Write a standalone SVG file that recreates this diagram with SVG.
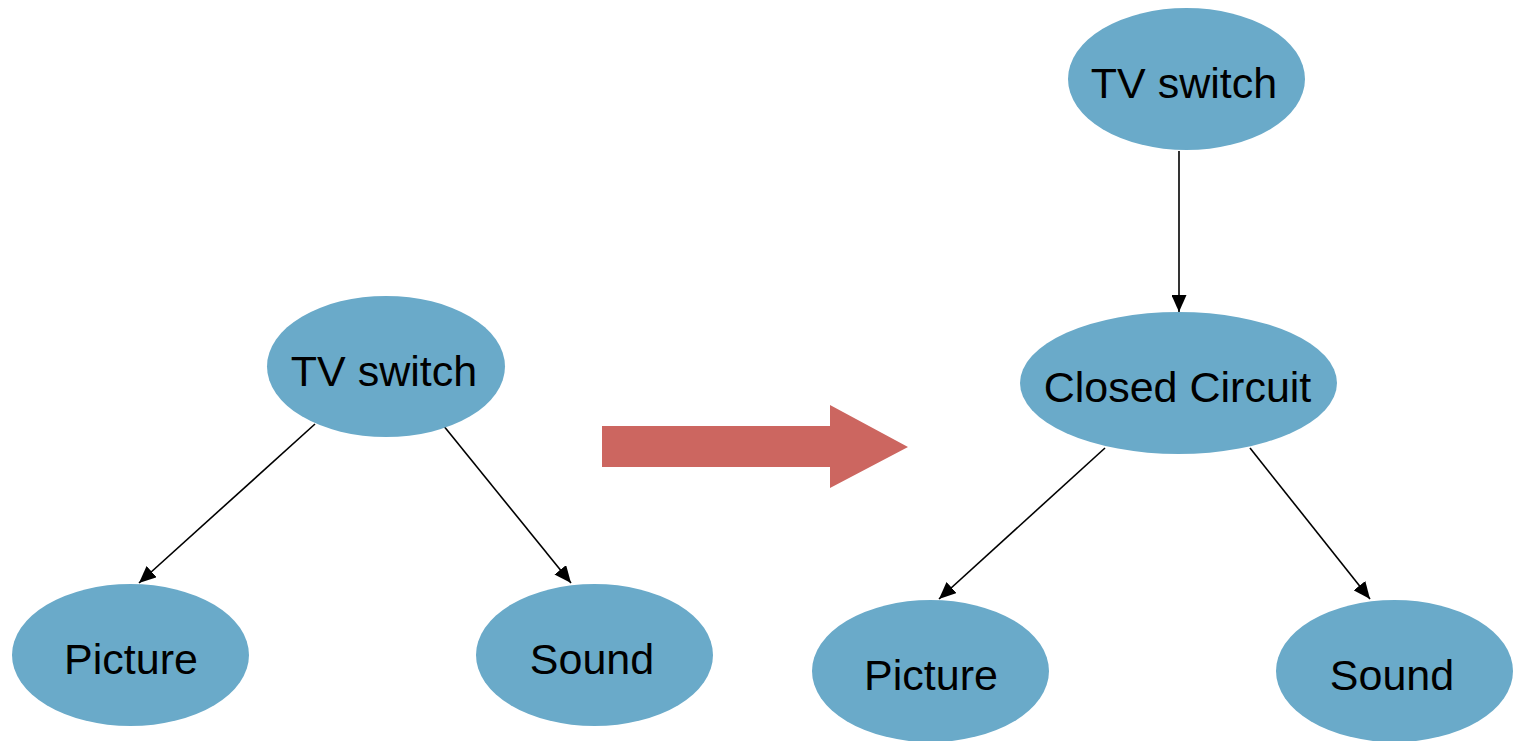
<svg xmlns="http://www.w3.org/2000/svg" width="1513" height="741" viewBox="0 0 1513 741">
<style>
.node{fill:#6AAAC9;}
.lbl{font-family:"Liberation Sans",Arial,sans-serif;font-size:43px;fill:#000;text-anchor:middle;}
.edge{stroke:#000;stroke-width:1.6;fill:none;marker-end:url(#ah);}
</style>
<defs>
<marker id="ah" markerUnits="userSpaceOnUse" markerWidth="17" markerHeight="15" viewBox="0 0 17 15" refX="17" refY="7.5" orient="auto">
<path d="M0,0 L17,7.5 L0,15 Z" fill="#000"/>
</marker>
</defs>
<rect width="1513" height="741" fill="#fff"/>
<g id="connectors">
<line class="edge" x1="315" y1="424" x2="139" y2="583"/>
<line class="edge" x1="443" y1="425" x2="571" y2="583"/>
<line class="edge" x1="1179" y1="151" x2="1179" y2="312"/>
<line class="edge" x1="1105" y1="448" x2="939" y2="599"/>
<line class="edge" x1="1250" y1="448" x2="1370" y2="599"/>
</g>
<g id="bigArrow">
<path d="M602,426 L830,426 L830,405 L908,447 L830,488 L830,467 L602,467 Z" fill="#CC6660"/>
</g>
<g id="tv1">
<ellipse class="node" cx="386" cy="366.5" rx="119" ry="70.5"/>
<text class="lbl" x="384" y="386">TV switch</text>
</g>
<g id="pic1">
<ellipse class="node" cx="130.5" cy="655" rx="118.5" ry="71"/>
<text class="lbl" x="131" y="674">Picture</text>
</g>
<g id="snd1">
<ellipse class="node" cx="594.5" cy="655" rx="118.5" ry="71"/>
<text class="lbl" x="592" y="674">Sound</text>
</g>
<g id="tv2">
<ellipse class="node" cx="1186.5" cy="79" rx="118.5" ry="71"/>
<text class="lbl" x="1184" y="98">TV switch</text>
</g>
<g id="cc">
<ellipse class="node" cx="1178.5" cy="383" rx="158.5" ry="71"/>
<text class="lbl" x="1177.5" y="402">Closed Circuit</text>
</g>
<g id="pic2">
<ellipse class="node" cx="930.5" cy="671" rx="118.5" ry="71"/>
<text class="lbl" x="931" y="690">Picture</text>
</g>
<g id="snd2">
<ellipse class="node" cx="1394.5" cy="671" rx="118.5" ry="71"/>
<text class="lbl" x="1392" y="690">Sound</text>
</g>
</svg>
